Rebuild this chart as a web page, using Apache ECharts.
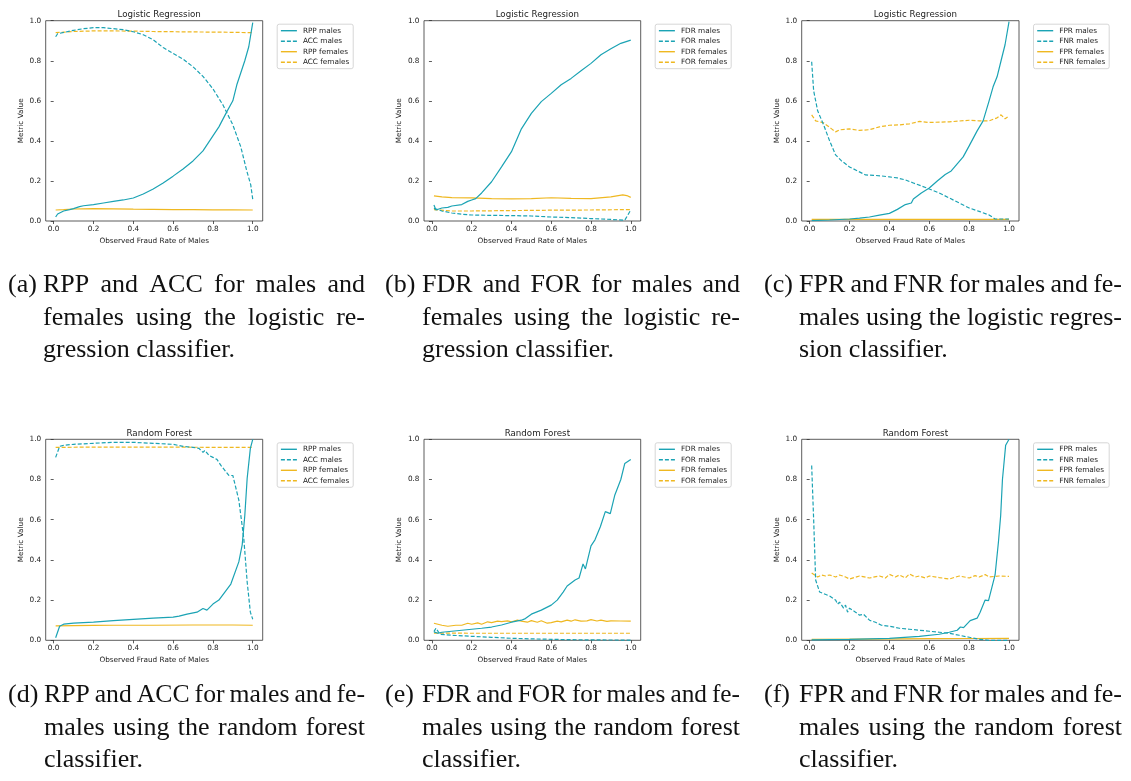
<!DOCTYPE html>
<html><head><meta charset="utf-8">
<script src="https://cdn.jsdelivr.net/npm/echarts@6/dist/echarts.min.js"></script>
<style>html,body{margin:0;padding:0;background:#fff}#c{width:1131px;height:781px}</style>
</head><body><div id="c"></div>
<script>
const xTicks = [0, 0.2, 0.4, 0.6, 0.8, 1.0];
const yTicks = [0, 0.2, 0.4, 0.6, 0.8, 1.0];
const titles = ['Logistic Regression','Logistic Regression','Logistic Regression','Random Forest','Random Forest','Random Forest'];
const xLabel = 'Observed Fraud Rate of Males';
const yLabel = 'Metric Value';

// (a) LR: RPP / ACC
const lrRppM = [[0.01,0.02],[0.02,0.035],[0.03,0.042],[0.05,0.05],[0.08,0.057],[0.1,0.062],[0.13,0.072],[0.15,0.076],[0.2,0.082],[0.25,0.09],[0.3,0.098],[0.35,0.105],[0.4,0.115],[0.45,0.135],[0.5,0.16],[0.55,0.19],[0.6,0.224],[0.65,0.26],[0.7,0.3],[0.75,0.35],[0.8,0.425],[0.83,0.47],[0.87,0.546],[0.9,0.6],[0.92,0.68],[0.94,0.74],[0.96,0.8],[0.98,0.87],[1.0,0.99]];
const lrAccM = [[0.01,0.92],[0.02,0.935],[0.03,0.94],[0.1,0.952],[0.15,0.96],[0.2,0.965],[0.25,0.965],[0.3,0.96],[0.35,0.955],[0.4,0.945],[0.45,0.93],[0.5,0.905],[0.55,0.866],[0.6,0.837],[0.65,0.808],[0.7,0.77],[0.75,0.722],[0.8,0.66],[0.85,0.58],[0.9,0.48],[0.94,0.37],[0.97,0.25],[0.99,0.18],[1.0,0.108]];
const lrRppF = [[0.01,0.055],[0.05,0.057],[0.1,0.06],[0.2,0.062],[0.3,0.061],[0.4,0.059],[0.5,0.058],[0.6,0.057],[0.7,0.057],[0.8,0.056],[0.9,0.056],[1.0,0.055]];
const lrAccF = [[0.01,0.94],[0.1,0.946],[0.2,0.949],[0.3,0.949],[0.4,0.948],[0.5,0.946],[0.6,0.945],[0.7,0.944],[0.8,0.943],[0.9,0.942],[1.0,0.94]];

// (b) LR: FDR / FOR
const lrFdrM = [[0.01,0.08],[0.02,0.055],[0.03,0.06],[0.05,0.065],[0.08,0.068],[0.1,0.075],[0.15,0.082],[0.18,0.098],[0.2,0.105],[0.22,0.112],[0.25,0.14],[0.3,0.196],[0.35,0.27],[0.4,0.346],[0.45,0.46],[0.5,0.537],[0.55,0.596],[0.6,0.637],[0.65,0.68],[0.7,0.712],[0.75,0.75],[0.8,0.787],[0.85,0.83],[0.9,0.86],[0.95,0.887],[1.0,0.903]];
const lrForM = [[0.01,0.063],[0.05,0.05],[0.1,0.04],[0.15,0.034],[0.2,0.03],[0.3,0.028],[0.4,0.027],[0.5,0.025],[0.6,0.02],[0.7,0.017],[0.8,0.012],[0.9,0.008],[0.97,0.004],[0.98,0.01],[1.0,0.055]];
const lrFdrF = [[0.01,0.125],[0.05,0.12],[0.1,0.117],[0.2,0.115],[0.3,0.112],[0.4,0.11],[0.5,0.112],[0.6,0.116],[0.7,0.113],[0.8,0.112],[0.9,0.12],[0.96,0.13],[0.98,0.127],[1.0,0.118]];
const lrForF = [[0.01,0.057],[0.1,0.05],[0.2,0.05],[0.4,0.052],[0.6,0.054],[0.8,0.055],[1.0,0.057]];

// (c) LR: FPR / FNR
const lrFprM = [[0.01,0.002],[0.1,0.005],[0.2,0.01],[0.25,0.014],[0.3,0.02],[0.35,0.029],[0.4,0.038],[0.44,0.058],[0.48,0.082],[0.51,0.09],[0.52,0.11],[0.56,0.14],[0.6,0.165],[0.64,0.2],[0.68,0.232],[0.71,0.25],[0.74,0.285],[0.77,0.32],[0.8,0.375],[0.84,0.45],[0.87,0.5],[0.9,0.6],[0.92,0.67],[0.94,0.72],[0.96,0.8],[0.98,0.88],[1.0,0.995]];
const lrFnrM = [[0.01,0.795],[0.02,0.65],[0.04,0.55],[0.07,0.48],[0.1,0.4],[0.13,0.33],[0.16,0.3],[0.2,0.27],[0.24,0.25],[0.28,0.23],[0.32,0.228],[0.36,0.225],[0.4,0.22],[0.44,0.215],[0.48,0.205],[0.52,0.19],[0.56,0.175],[0.6,0.16],[0.65,0.14],[0.7,0.115],[0.75,0.09],[0.8,0.065],[0.85,0.048],[0.9,0.03],[0.93,0.01],[1.0,0.01]];
const lrFprF = [[0.01,0.008],[0.2,0.008],[0.4,0.008],[0.6,0.008],[0.8,0.008],[1.0,0.008]];
const lrFnrF = [[0.01,0.53],[0.03,0.5],[0.07,0.49],[0.11,0.46],[0.13,0.445],[0.15,0.455],[0.2,0.46],[0.25,0.452],[0.3,0.456],[0.35,0.47],[0.4,0.478],[0.45,0.48],[0.5,0.485],[0.55,0.497],[0.6,0.492],[0.7,0.495],[0.8,0.503],[0.85,0.5],[0.9,0.5],[0.94,0.515],[0.96,0.53],[0.98,0.51],[1.0,0.525]];

// (d) RF: RPP / ACC
const rfRppM = [[0.01,0.013],[0.03,0.07],[0.05,0.08],[0.1,0.085],[0.2,0.09],[0.3,0.098],[0.4,0.104],[0.5,0.11],[0.6,0.115],[0.63,0.12],[0.67,0.13],[0.72,0.14],[0.75,0.158],[0.77,0.15],[0.8,0.18],[0.83,0.2],[0.86,0.24],[0.89,0.28],[0.9,0.272],[0.93,0.39],[0.947,0.475],[0.96,0.62],[0.972,0.806],[0.988,0.955],[1.0,1.0]];
const rfAccM = [[0.01,0.91],[0.03,0.965],[0.05,0.97],[0.1,0.975],[0.2,0.98],[0.3,0.985],[0.4,0.985],[0.5,0.98],[0.6,0.975],[0.65,0.965],[0.7,0.96],[0.73,0.955],[0.75,0.935],[0.76,0.945],[0.78,0.92],[0.8,0.91],[0.82,0.9],[0.84,0.87],[0.88,0.82],[0.9,0.82],[0.93,0.698],[0.955,0.507],[0.972,0.29],[0.988,0.14],[1.0,0.105]];
const rfRppF = [[0.01,0.072],[0.1,0.073],[0.2,0.074],[0.3,0.075],[0.5,0.075],[0.7,0.076],[0.9,0.076],[1.0,0.075]];
const rfAccF = [[0.01,0.96],[0.2,0.961],[0.4,0.961],[0.6,0.961],[0.8,0.96],[1.0,0.96]];

// (e) RF: FDR / FOR
const rfFdrM = [[0.01,0.042],[0.03,0.035],[0.05,0.04],[0.1,0.045],[0.15,0.05],[0.2,0.055],[0.25,0.06],[0.3,0.066],[0.35,0.076],[0.4,0.09],[0.45,0.1],[0.47,0.108],[0.5,0.13],[0.55,0.15],[0.6,0.175],[0.63,0.2],[0.66,0.24],[0.68,0.27],[0.72,0.3],[0.74,0.31],[0.76,0.38],[0.772,0.355],[0.8,0.47],[0.82,0.5],[0.847,0.565],[0.872,0.64],[0.897,0.63],[0.92,0.723],[0.95,0.8],[0.97,0.88],[1.0,0.9]];
const rfForM = [[0.01,0.043],[0.02,0.06],[0.04,0.03],[0.1,0.025],[0.2,0.02],[0.3,0.015],[0.4,0.01],[0.5,0.007],[0.6,0.005],[0.7,0.003],[0.8,0.002],[1.0,0.001]];
const rfFdrF = [[0.01,0.085],[0.03,0.08],[0.05,0.075],[0.08,0.07],[0.12,0.075],[0.15,0.075],[0.18,0.085],[0.2,0.08],[0.23,0.087],[0.25,0.08],[0.28,0.092],[0.3,0.088],[0.33,0.095],[0.35,0.093],[0.38,0.097],[0.4,0.092],[0.43,0.1],[0.45,0.095],[0.48,0.09],[0.5,0.098],[0.53,0.09],[0.55,0.097],[0.58,0.085],[0.6,0.088],[0.63,0.095],[0.65,0.092],[0.68,0.1],[0.7,0.095],[0.72,0.102],[0.75,0.095],[0.78,0.097],[0.8,0.103],[0.83,0.096],[0.85,0.1],[0.88,0.094],[0.9,0.097],[0.95,0.096],[1.0,0.095]];
const rfForF = [[0.01,0.036],[0.2,0.035],[0.4,0.035],[0.6,0.035],[0.8,0.035],[1.0,0.035]];

// (f) RF: FPR / FNR
const rfFprM = [[0.01,0.002],[0.2,0.005],[0.4,0.01],[0.55,0.02],[0.65,0.03],[0.7,0.04],[0.74,0.05],[0.756,0.066],[0.772,0.063],[0.805,0.098],[0.84,0.11],[0.855,0.14],[0.88,0.2],[0.897,0.197],[0.93,0.325],[0.947,0.49],[0.958,0.62],[0.967,0.8],[0.983,0.97],[1.0,1.0]];
const rfFnrM = [[0.01,0.87],[0.02,0.6],[0.03,0.3],[0.05,0.24],[0.1,0.22],[0.13,0.2],[0.14,0.18],[0.15,0.19],[0.17,0.16],[0.18,0.175],[0.19,0.14],[0.2,0.16],[0.23,0.14],[0.25,0.125],[0.27,0.13],[0.3,0.1],[0.33,0.09],[0.36,0.075],[0.4,0.07],[0.45,0.06],[0.5,0.055],[0.55,0.05],[0.6,0.045],[0.65,0.04],[0.7,0.035],[0.75,0.025],[0.8,0.015],[0.85,0.005],[0.9,0.0],[1.0,0.0]];
const rfFprF = [[0.01,0.005],[0.3,0.006],[0.6,0.008],[0.8,0.009],[1.0,0.01]];
const rfFnrF = [[0.01,0.335],[0.02,0.33],[0.04,0.315],[0.06,0.325],[0.08,0.32],[0.1,0.325],[0.13,0.315],[0.15,0.325],[0.18,0.315],[0.2,0.305],[0.25,0.32],[0.3,0.31],[0.35,0.32],[0.38,0.31],[0.4,0.328],[0.43,0.315],[0.45,0.325],[0.48,0.31],[0.5,0.33],[0.53,0.315],[0.55,0.32],[0.58,0.31],[0.6,0.32],[0.65,0.312],[0.7,0.305],[0.75,0.32],[0.8,0.31],[0.83,0.322],[0.85,0.315],[0.88,0.327],[0.9,0.315],[0.95,0.32],[1.0,0.318]];

const panelSeries = [
  [['RPP males',lrRppM],['ACC males',lrAccM],['RPP females',lrRppF],['ACC females',lrAccF]],
  [['FDR males',lrFdrM],['FOR males',lrForM],['FDR females',lrFdrF],['FOR females',lrForF]],
  [['FPR males',lrFprM],['FNR males',lrFnrM],['FPR females',lrFprF],['FNR females',lrFnrF]],
  [['RPP males',rfRppM],['ACC males',rfAccM],['RPP females',rfRppF],['ACC females',rfAccF]],
  [['FDR males',rfFdrM],['FOR males',rfForM],['FDR females',rfFdrF],['FOR females',rfForF]],
  [['FPR males',rfFprM],['FNR males',rfFnrM],['FPR females',rfFprF],['FNR females',rfFnrF]]
];

const captions = [
  ['(a)', ['RPP and ACC for males and','females using the logistic re-','gression classifier.']],
  ['(b)', ['FDR and FOR for males and','females using the logistic re-','gression classifier.']],
  ['(c)', ['FPR and FNR for males and fe-','males using the logistic regres-','sion classifier.']],
  ['(d)', ['RPP and ACC for males and fe-','males using the random forest','classifier.']],
  ['(e)', ['FDR and FOR for males and fe-','males using the random forest','classifier.']],
  ['(f)', ['FPR and FNR for males and fe-','males using the random forest','classifier.']]
];

const TEAL = '#1ba3b4', YEL = '#efb821';
const FONT = 'DejaVu Sans';
const CAP_FONT = '25px "Liberation Serif"';
const CAP_SX = 1.04, MIN_GAP = 5;
const gridPos = [
  {left:45.7, top:20.7, width:217, height:200.3},
  {left:424, top:20.7, width:216.7, height:200.3},
  {left:801.7, top:20.7, width:217.3, height:200.3},
  {left:45.7, top:439.3, width:217, height:201},
  {left:424, top:439.3, width:216.7, height:201},
  {left:801.7, top:439.3, width:217.3, height:201}
];
// label x, body x, body right edge, top of first caption line
const capPos = [[8,43,365,273],[385,422,740,273],[764,799,1122,273],[8,44,365,683],[385,422,740,683],[764,799,1122,683]];
const LINE_H = 32.6;

const grid=[], xAxis=[], yAxis=[], series=[], legend=[], title=[], graphic=[];
gridPos.forEach((g,i)=>{
  grid.push(Object.assign({show:true, borderColor:'#333', borderWidth:0.8, containLabel:false}, g));
  xAxis.push({type:'value', gridIndex:i, min:-0.04, max:1.05,
    name:xLabel, nameLocation:'middle', nameGap:16.5, nameTextStyle:{fontFamily:FONT,fontSize:7.3,color:'#222'},
    axisLine:{show:false}, splitLine:{show:false},
    axisTick:{show:true, customValues:xTicks, length:3, lineStyle:{color:'#333',width:0.8}},
    axisLabel:{customValues:xTicks, formatter:v=>v.toFixed(1), fontFamily:FONT, fontSize:7.3, color:'#222', margin:4.5}});
  yAxis.push({type:'value', gridIndex:i, min:0, max:1,
    name:yLabel, nameLocation:'middle', nameGap:21, nameRotate:90, nameTextStyle:{fontFamily:FONT,fontSize:7.3,color:'#222'},
    axisLine:{show:false}, splitLine:{show:false},
    axisTick:{show:true, customValues:yTicks, length:3, lineStyle:{color:'#333',width:0.8}},
    axisLabel:{customValues:yTicks, formatter:v=>v.toFixed(1), fontFamily:FONT, fontSize:7.3, color:'#222', margin:4.5}});
  title.push({text:titles[i], left:g.left+g.width/2, top:g.top-15, textAlign:'center',
    textStyle:{fontFamily:FONT, fontSize:8.7, fontWeight:'normal', color:'#222'}});
  const names=[];
  panelSeries[i].forEach((s,j)=>{
    names.push(s[0]);
    series.push({type:'line', name:s[0], xAxisIndex:i, yAxisIndex:i, data:s[1], symbol:'none', silent:true, animation:false,
      z: j<2?3:2,
      lineStyle:{color: j<2?TEAL:YEL, width:1.2, type: (j%2===1)?[4,2]:'solid'}, itemStyle:{color:j<2?TEAL:YEL}});
  });
  legend.push({data:names, orient:'vertical', left:g.left+g.width+14.5, top:g.top+3.5,
    itemWidth:16, itemHeight:8, itemGap:3.5, padding:[3,4,3,3],
    itemStyle:{opacity:0}, lineStyle:{width:1.4},
    borderColor:'#ccc', borderWidth:0.8, borderRadius:2, backgroundColor:'#fff',
    textStyle:{fontFamily:FONT, fontSize:7.3, color:'#222', padding:[0,0,0,1]}, selectedMode:false});
});

// caption layout (justified lines, like the typeset original)
const mctx = document.createElement('canvas').getContext('2d');
mctx.font = CAP_FONT;
function capText(text, x, y, sx){
  return {type:'text', x, y, scaleX:sx, style:{text, font:CAP_FONT, fill:'#111', textVerticalAlign:'top'}};
}
captions.forEach((c,i)=>{
  const [lx,bx,rx,ty]=capPos[i];
  graphic.push(capText(c[0], lx, ty, CAP_SX));
  c[1].forEach((line,k)=>{
    const top = ty+k*LINE_H;
    if (k===c[1].length-1) { graphic.push(capText(line, bx, top, CAP_SX)); return; }
    const words = line.split(' ');
    const raw = words.map(w=>mctx.measureText(w).width);
    const rawTotal = raw.reduce((a,b)=>a+b,0);
    let sx = CAP_SX;
    let gap = (rx-bx-rawTotal*sx)/(words.length-1);
    if (gap < MIN_GAP) { sx = (rx-bx-MIN_GAP*(words.length-1))/rawTotal; gap = MIN_GAP; }
    let x = bx;
    words.forEach((w,m)=>{ graphic.push(capText(w, x, top, sx)); x += raw[m]*sx+gap; });
  });
});

const chart = echarts.init(document.getElementById('c'), null, {renderer:'canvas'});
chart.setOption({animation:false, backgroundColor:'#fff', grid, xAxis, yAxis, series, legend, title, graphic});
</script></body></html>
